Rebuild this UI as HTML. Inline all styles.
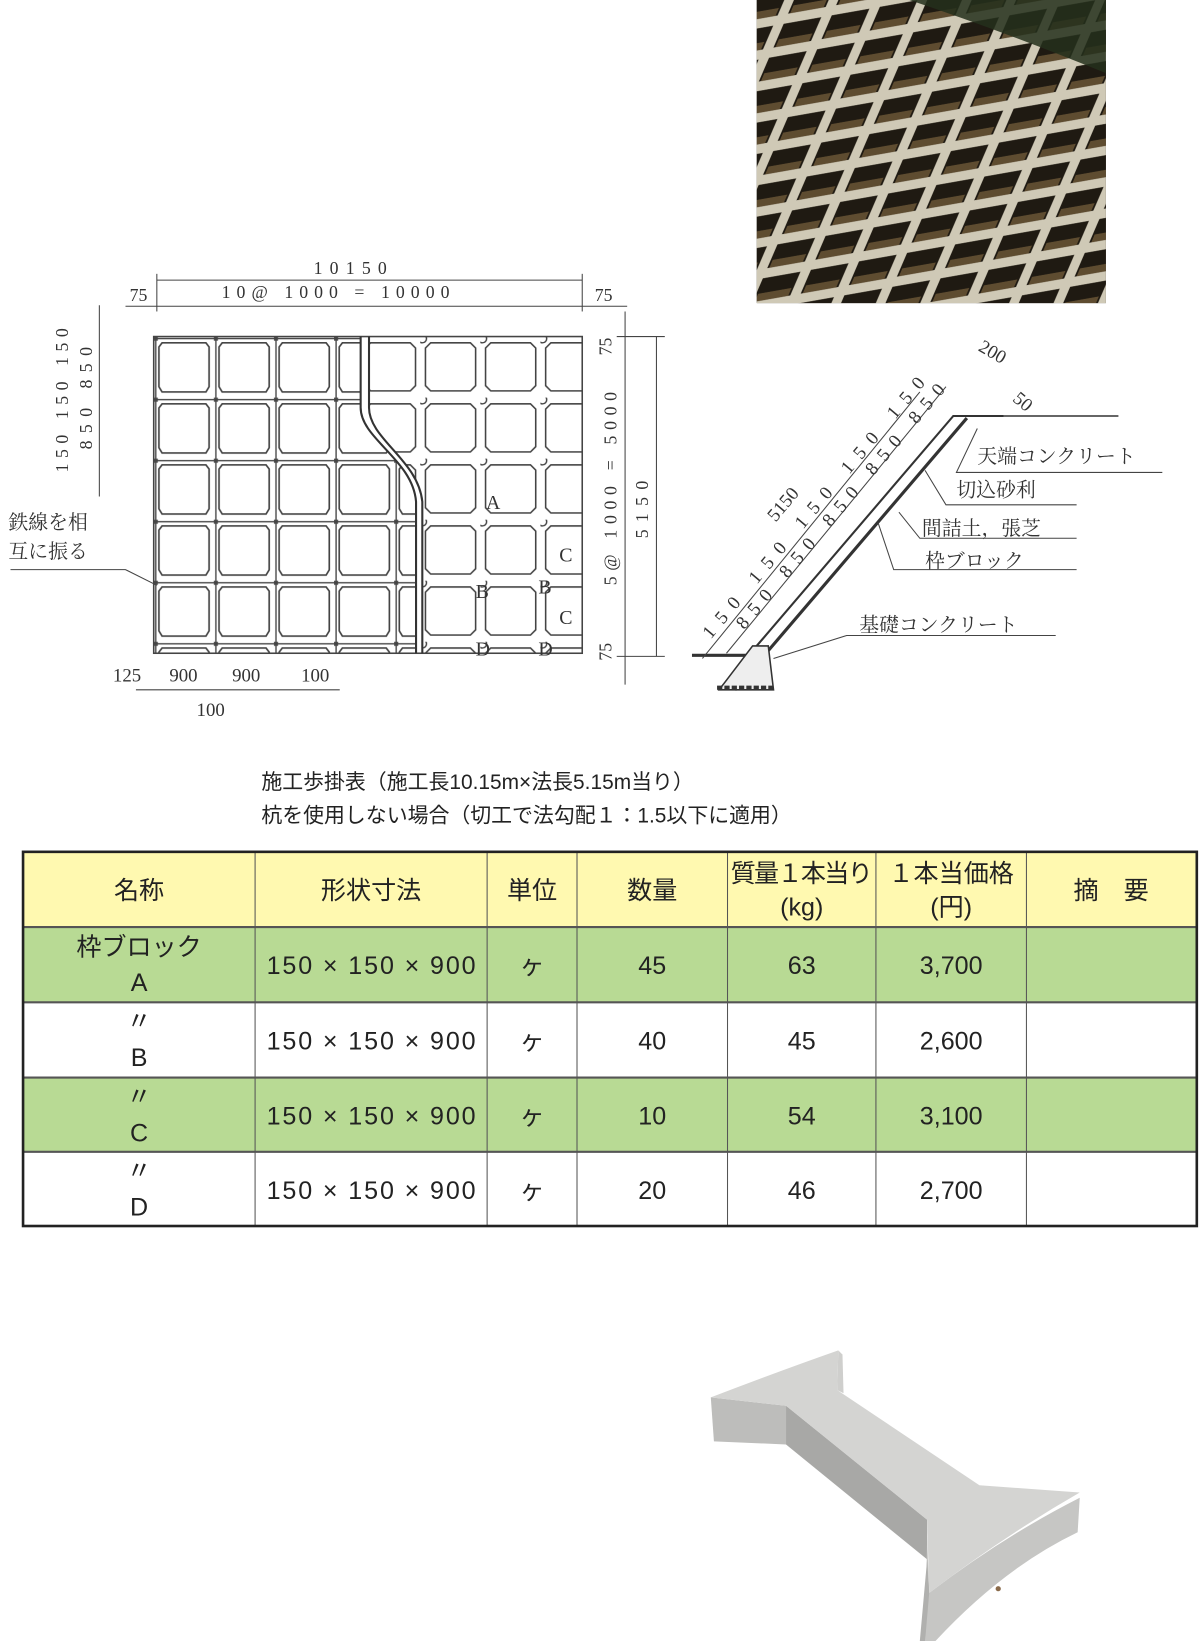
<!DOCTYPE html>
<html><head><meta charset="utf-8"><style>
html,body{margin:0;padding:0;background:#fff}
svg{display:block}
text{font-family:"Liberation Serif","Noto Serif CJK SC",serif;fill:#333}
.s{font-family:"Liberation Sans","Noto Sans CJK JP",sans-serif;fill:#222}
</style></head><body>
<svg width="1200" height="1642" viewBox="0 0 1148 1571" xmlns="http://www.w3.org/2000/svg">
<defs>
<pattern id="cell" x="147" y="322" width="57.5" height="58.4" patternUnits="userSpaceOnUse">
<rect width="57.5" height="58.4" fill="#fff"/>
<path d="M8 6 H50 L53 10 V48 L50 53 H8 L5 48 V10 Z" fill="none" stroke="#444" stroke-width="1.6"/>
<rect x="-3" y="-3" width="7" height="7" fill="#555"/>
<line x1="0" y1="2" x2="57.5" y2="2" stroke="#444" stroke-width="1.3"/>
<line x1="2" y1="0" x2="2" y2="58.4" stroke="#444" stroke-width="1.3"/>
</pattern>
<pattern id="cell2" x="402" y="322" width="57.5" height="58.4" patternUnits="userSpaceOnUse">
<rect width="57.5" height="58.4" fill="#fff"/>
<path d="M10 6 H48 L53 11 V47 L48 52 H10 L5 47 V11 Z" fill="none" stroke="#444" stroke-width="1.5"/>
<circle cx="2" cy="2" r="4" fill="none" stroke="#444" stroke-width="1.4"/>
</pattern>
<pattern id="lat" x="724" y="0" width="46" height="30" patternUnits="userSpaceOnUse" patternTransform="skewY(-10) skewX(-25)">
<rect width="46" height="30" fill="#cfc9b6"/>
<rect x="6" y="5" width="36" height="21" fill="#1f1a12"/>
<rect x="8" y="19" width="32" height="7" fill="#5e4c30"/>
</pattern>
<clipPath id="lc"><path d="M147 322 H345 V390 C345 420 395 440 398 480 V625 H147 Z"/></clipPath>
<clipPath id="rc"><path d="M353 322 H557 V625 H404 V480 C400 440 353 420 353 390 Z"/></clipPath>
</defs>

<!-- top photo -->
<rect x="724" y="0" width="334" height="290" fill="#2c2418"/>
<rect x="724" y="0" width="334" height="290" fill="url(#lat)"/>
<path d="M870 0 H1058 V70 Q960 30 870 0 Z" fill="#24301c" opacity="0.85"/>

<!-- grid drawing -->
<g clip-path="url(#lc)"><rect x="140" y="315" width="270" height="320" fill="url(#cell)"/></g>
<g clip-path="url(#rc)"><rect x="340" y="315" width="225" height="320" fill="url(#cell2)"/></g>
<rect x="147" y="322" width="410" height="303" fill="none" stroke="#444" stroke-width="1.5"/>
<path d="M345 322 V390 C345 420 395 440 398 480 V625 M353 322 V390 C353 420 400 440 404 480 V625" fill="none" stroke="#333" stroke-width="2"/>
<!-- dimensions top -->
<line x1="150" y1="268" x2="557" y2="268" stroke="#444"/>
<line x1="120" y1="293" x2="600" y2="293" stroke="#444"/>
<line x1="150" y1="262" x2="150" y2="298" stroke="#444"/>
<line x1="557" y1="262" x2="557" y2="298" stroke="#444"/>
<text x="300" y="262" font-size="17" textLength="70">10150</text>
<text x="212" y="285" font-size="17" textLength="218">10@ 1000 = 10000</text>
<text x="124" y="288" font-size="17">75</text>
<text x="569" y="288" font-size="17">75</text>
<!-- right dims -->
<line x1="598" y1="298" x2="598" y2="655" stroke="#444"/>
<line x1="628" y1="322" x2="628" y2="628" stroke="#444"/>
<line x1="590" y1="322" x2="636" y2="322" stroke="#444"/>
<line x1="590" y1="628" x2="636" y2="628" stroke="#444"/>
<g font-size="17">
<text transform="translate(585,340) rotate(-90)">75</text>
<text transform="translate(590,560) rotate(-90)" textLength="185">5@ 1000 = 5000</text>
<text transform="translate(620,515) rotate(-90)" textLength="55">5150</text>
<text transform="translate(585,632) rotate(-90)">75</text>
<text transform="translate(65,452) rotate(-90)" textLength="138">150  150  150</text>
<text transform="translate(88,430) rotate(-90)" textLength="98">850   850</text>
</g>
<line x1="95" y1="292" x2="95" y2="475" stroke="#444"/>
<g font-size="19">
<text x="465" y="487">A</text>
<text x="455" y="572">B</text><text x="515" y="568">B</text>
<text x="535" y="537">C</text><text x="535" y="597">C</text>
<text x="455" y="627">D</text><text x="515" y="627">D</text>
</g>
<text x="8" y="506" font-size="19">鉄線を相</text>
<text x="8" y="534" font-size="19">互に振る</text>
<path d="M10 545 H120 L150 560" fill="none" stroke="#444"/>
<g font-size="18">
<text x="108" y="652">125</text><text x="162" y="652">900</text><text x="222" y="652">900</text><text x="288" y="652">100</text>
<text x="188" y="685">100</text>
</g>
<line x1="130" y1="660" x2="325" y2="660" stroke="#444"/>

<!-- slope section -->
<path d="M688 660 L912 398 H960" fill="none" stroke="#333" stroke-width="2"/>
<path d="M703 660 L925 400" fill="none" stroke="#333" stroke-width="3"/>
<path d="M912 398 H1070" stroke="#333" stroke-width="1.5"/>
<path d="M662 627 H715" stroke="#333" stroke-width="3"/>
<path d="M688 660 L720 618 H735 L740 660 Z" fill="#eee" stroke="#333" stroke-width="1.5"/>
<path d="M686 658 H740" stroke="#333" stroke-width="4" stroke-dasharray="5 2"/>
<line x1="672" y1="630" x2="880" y2="375" stroke="#444"/>
<line x1="695" y1="625" x2="905" y2="370" stroke="#444"/>
<g font-size="18">
<text transform="translate(680,612) rotate(-50)" textLength="320">150 150 150 150 150</text>
<text transform="translate(712,603) rotate(-50)" textLength="300">850 850 850 850 850</text>
<text transform="translate(742,500) rotate(-50)">5150</text>
<text transform="translate(935,335) rotate(30)">200</text>
<text transform="translate(968,383) rotate(40)">50</text>
</g>
<g font-size="19">
<text x="935" y="443">天端コンクリート</text>
<text x="915" y="475">切込砂利</text>
<text x="882" y="512">間詰土，張芝</text>
<text x="885" y="543">枠ブロック</text>
<text x="822" y="604">基礎コンクリート</text>
</g>
<g stroke="#444" fill="none">
<path d="M935 410 L915 452 H1112"/>
<path d="M885 450 L905 483 H1030"/>
<path d="M860 490 L880 515 H1030"/>
<path d="M840 500 L855 545 H1030"/>
<path d="M740 630 L810 608 H1010"/>
</g>

<!-- captions -->
<text class="s" x="250" y="755" font-size="20">施工歩掛表（施工長10.15m×法長5.15m当り）</text>
<text class="s" x="250" y="787" font-size="20">杭を使用しない場合（切工で法勾配１：1.5以下に適用）</text>

<!-- table -->
<rect x="22" y="815" width="1123" height="72" fill="#fff9b0"/>
<rect x="22" y="887" width="1123" height="72" fill="#b8da94"/>
<rect x="22" y="1031" width="1123" height="71" fill="#b8da94"/>
<g stroke="#555" stroke-width="1">
<line x1="22" y1="887" x2="1145" y2="887" stroke-width="2"/>
<line x1="22" y1="959" x2="1145" y2="959" stroke-width="2"/>
<line x1="22" y1="1031" x2="1145" y2="1031" stroke-width="2"/>
<line x1="22" y1="1102" x2="1145" y2="1102" stroke-width="2"/>
<line x1="244" y1="815" x2="244" y2="1173"/><line x1="466" y1="815" x2="466" y2="1173"/>
<line x1="552" y1="815" x2="552" y2="1173"/><line x1="696" y1="815" x2="696" y2="1173"/>
<line x1="838" y1="815" x2="838" y2="1173"/><line x1="982" y1="815" x2="982" y2="1173"/>
</g>
<rect x="22" y="815" width="1123" height="358" fill="none" stroke="#222" stroke-width="2.5"/>
<g class="s" font-size="24" text-anchor="middle">
<text class="s" x="133" y="860">名称</text>
<text class="s" x="355" y="860">形状寸法</text>
<text class="s" x="509" y="860">単位</text>
<text class="s" x="624" y="860">数量</text>
<text class="s" x="767" y="844" textLength="136">質量１本当り</text>
<text class="s" x="767" y="876">(kg)</text>
<text class="s" x="910" y="844">１本当価格</text>
<text class="s" x="910" y="876">(円)</text>
<text class="s" x="1063" y="860">摘　要</text>
<text class="s" x="133" y="914">枠ブロック</text><text class="s" x="133" y="948">A</text>
<text class="s" x="133" y="985">〃</text><text class="s" x="133" y="1020">B</text>
<text class="s" x="133" y="1057">〃</text><text class="s" x="133" y="1092">C</text>
<text class="s" x="133" y="1128">〃</text><text class="s" x="133" y="1163">D</text>
<text class="s" x="355" y="932" textLength="200">150 × 150 × 900</text>
<text class="s" x="355" y="1004" textLength="200">150 × 150 × 900</text>
<text class="s" x="355" y="1076" textLength="200">150 × 150 × 900</text>
<text class="s" x="355" y="1147" textLength="200">150 × 150 × 900</text>
<text class="s" x="509" y="932">ヶ</text><text class="s" x="509" y="1004">ヶ</text><text class="s" x="509" y="1076">ヶ</text><text class="s" x="509" y="1147">ヶ</text>
<text class="s" x="624" y="932">45</text><text class="s" x="624" y="1004">40</text><text class="s" x="624" y="1076">10</text><text class="s" x="624" y="1147">20</text>
<text class="s" x="767" y="932">63</text><text class="s" x="767" y="1004">45</text><text class="s" x="767" y="1076">54</text><text class="s" x="767" y="1147">46</text>
<text class="s" x="910" y="932">3,700</text><text class="s" x="910" y="1004">2,600</text><text class="s" x="910" y="1076">3,100</text><text class="s" x="910" y="1147">2,700</text>
</g>

<!-- concrete block photo -->
<!-- left arm front -->
<path d="M680 1337 L752 1345 L752 1382 L683 1379 Z" fill="#bdbdbb"/>
<!-- body side -->
<path d="M752 1345 L887 1454 L887 1492 L752 1382 Z" fill="#a8a8a6"/>
<!-- arm end face small -->
<path d="M802 1292 L806 1296 L807 1333 L801 1330 Z" fill="#cfcfcd"/>
<!-- right arm front -->
<path d="M887 1470 L889 1524 Q960 1470 1033 1433 L1031 1466 Q960 1500 895 1570 L885 1570 Z" fill="#c6c6c4"/>
<path d="M887 1492 L889 1524 L885 1570 L880 1570 Z" fill="#b0b0ae"/>
<!-- top surface -->
<path d="M680 1337 Q745 1312 802 1292 L801 1330 L937 1421 L1033 1428 Q960 1470 889 1524 L887 1454 L752 1345 Z" fill="#d4d4d2"/>
<circle cx="955" cy="1520" r="2.5" fill="#8a6a4a"/>
</svg>
</body></html>
